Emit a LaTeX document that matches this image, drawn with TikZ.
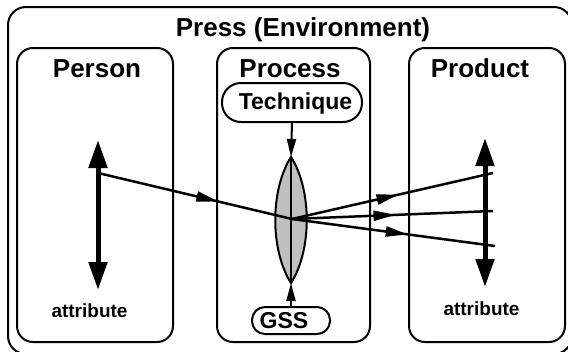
\documentclass[tikz,border=0pt]{standalone}
\usepackage{fontspec}
\setmainfont{Liberation Sans}
\usetikzlibrary{arrows.meta,decorations.markings}
\definecolor{lensgray}{gray}{0.75}
\tikzset{
  frame/.style={draw, line width=2pt, rounded corners=16pt, inner sep=0pt},
  bigtext/.style={font=\bfseries\fontsize{26}{30}\selectfont, anchor=base, inner sep=0pt},
  midtext/.style={font=\bfseries\fontsize{23}{27}\selectfont, anchor=base, inner sep=0pt},
  smalltext/.style={font=\bfseries\fontsize{19}{23}\selectfont, anchor=base, inner sep=0pt},
  pill/.style={draw, line width=2pt, inner sep=0pt},
  thickarrow/.style={line width=5pt, {Triangle[length=28pt,width=18pt]}-{Triangle[length=28pt,width=18pt]}},
  ray/.style={line width=2.5pt},
  midarrow/.style={postaction={decorate}, decoration={markings,
     mark=at position #1 with {\arrow{Triangle[length=22pt,width=10pt]}}}},
  smallarrow/.style={line width=2pt, -{Triangle[length=18pt,width=9pt]}}
}
\begin{document}
\begin{tikzpicture}[x=1pt,y=-1pt]
\useasboundingbox (0,0) rectangle (568,351);
\clip (0,0) rectangle (568,351);
% frames
\node[frame, rounded corners=18pt, minimum width=564pt, minimum height=347pt] (env) at (290,180.5) {};
\node[frame, minimum width=156pt, minimum height=294pt] (person) at (95,195) {};
\node[frame, minimum width=153pt, minimum height=294pt] (process) at (293.5,195) {};
\node[frame, minimum width=156pt, minimum height=294pt] (product) at (487,195) {};
% titles
\node[bigtext] (envlabel) at (303,36) {Press (Environment)};
\node[bigtext] (personlabel) at (97,77) {Person};
\node[bigtext] (processlabel) at (290,77) {Process};
\node[bigtext] (productlabel) at (480,77) {Product};
% technique and GSS
\node[pill, rounded corners=19pt, minimum width=140pt, minimum height=39pt] (tech) at (292,102.5) {};
\node[midtext] (techlabel) at (295.5,109) {Technique};
\node[pill, rounded corners=13pt, minimum width=78pt, minimum height=27pt] (gss) at (291,320.5) {};
\node[midtext] (gsslabel) at (284,328) {GSS};
% attribute labels
\node[smalltext] (attrL) at (89.5,317) {attribute};
\node[smalltext] (attrR) at (481.5,315) {attribute};
% lens
\coordinate (lt) at (291,157);
\coordinate (lb) at (291,283);
\coordinate (c) at (292,219);
\draw[fill=lensgray, line width=2pt] (lt) .. controls (312,190) and (312,250) .. (lb)
   .. controls (270,250) and (270,190) .. (lt) -- cycle;
\draw[line width=2pt] (lt) -- (lb);
\draw[smallarrow] (tech.south) -- (lt);
\draw[smallarrow] (gss.north) -- (lb);
% attribute axes
\coordinate (pt) at (98,140);
\coordinate (pb) at (98,290);
\coordinate (qt) at (485,138);
\coordinate (qb) at (485,287);
\draw[thickarrow] (pb) -- (pt);
\draw[thickarrow] (qb) -- (qt);
% rays
\coordinate (pa) at (98,173);
\coordinate (r1) at (493,173);
\coordinate (r2) at (493,211);
\coordinate (r3) at (495,246);
\draw[ray, midarrow=0.62] (pa) -- (c);
\draw[ray, midarrow=0.53] (c) -- (r1);
\draw[ray, midarrow=0.515] (c) -- (r2);
\draw[ray, midarrow=0.57] (c) -- (r3);
\end{tikzpicture}
\end{document}
